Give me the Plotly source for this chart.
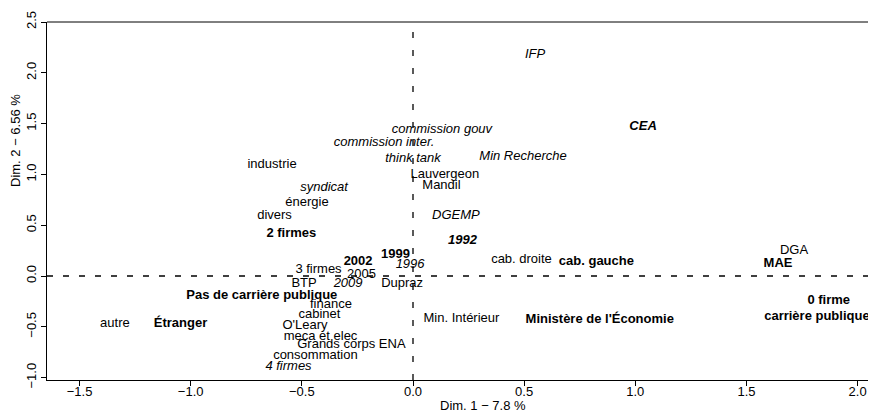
import plotly.graph_objects as go

# ---- data ----
labels = [
    "IFP", "CEA", "Min Recherche", "commission gouv", "commission inter.",
    "think tank", "industrie", "Lauvergeon", "Mandil", "syndicat", "énergie",
    "divers", "DGEMP", "2 firmes", "1992", "1999", "2002", "1996", "3 firmes",
    "2005", "BTP", "2009", "Dupraz", "Pas de carrière publique", "finance",
    "cabinet", "O'Leary", "Min. Intérieur", "meca et elec", "Grands corps ENA",
    "consommation", "4 firmes", "autre", "Étranger", "cab. droite",
    "cab. gauche", "DGA", "MAE", "0 firme", "carrière publique",
    "Ministère de l'Économie",
]
dim1 = [
    0.549, 1.035, 0.495, 0.130, -0.130,
    0.000, -0.634, 0.143, 0.128, -0.400, -0.477,
    -0.623, 0.193, -0.547, 0.223, -0.079, -0.247, -0.013, -0.425,
    -0.232, -0.490, -0.292, -0.049, -0.680, -0.369,
    -0.421, -0.486, 0.218, -0.416, -0.277,
    -0.439, -0.560, -1.341, -1.046, 0.488,
    0.825, 1.714, 1.642, 1.870, 1.817,
    0.840,
]
dim2 = [
    2.175, 1.470, 1.174, 1.437, 1.316,
    1.158, 1.093, 1.001, 0.886, 0.869, 0.722,
    0.597, 0.597, 0.413, 0.348, 0.207, 0.141, 0.108, 0.059,
    0.017, -0.072, -0.079, -0.079, -0.197, -0.285,
    -0.384, -0.492, -0.417, -0.597, -0.679,
    -0.787, -0.892, -0.472, -0.472, 0.157,
    0.141, 0.249, 0.125, -0.246, -0.400,
    -0.430,
]
x_ticks = [-1.5, -1.0, -0.5, 0.0, 0.5, 1.0, 1.5, 2.0]
x_ticktext = ["\u22121.5", "\u22121.0", "\u22120.5", "0.0", "0.5", "1.0", "1.5", "2.0"]
y_ticks = [-1.0, -0.5, 0.0, 0.5, 1.0, 1.5, 2.0, 2.5]
y_ticktext = ["\u22121.0", "\u22120.5", "0.0", "0.5", "1.0", "1.5", "2.0", "2.5"]
x_title = "Dim. 1 \u2212 7.8 %"
y_title = "Dim. 2 \u2212 6.56 %"

# ---- label styling groups ----
bold_labels = {"2 firmes", "1999", "2002", "Pas de carrière publique", "Étranger",
               "cab. gauche", "MAE", "0 firme", "carrière publique",
               "Ministère de l'Économie"}
italic_labels = {"IFP", "Min Recherche", "commission gouv", "commission inter.",
                 "think tank", "syndicat", "DGEMP", "1996", "2009", "4 firmes"}
bold_italic_labels = {"CEA", "1992"}

FONT = "Liberation Sans, Arial, Helvetica, sans-serif"

fig = go.Figure()
groups = [
    ("plain", "normal", "normal"),
    ("bold", "bold", "normal"),
    ("italic", "normal", "italic"),
    ("bolditalic", "bold", "italic"),
]
for name, weight, style in groups:
    xs, ys, ts = [], [], []
    for lab, a, b in zip(labels, dim1, dim2):
        if lab in bold_italic_labels:
            g = "bolditalic"
        elif lab in bold_labels:
            g = "bold"
        elif lab in italic_labels:
            g = "italic"
        else:
            g = "plain"
        if g == name:
            xs.append(a); ys.append(b); ts.append(lab)
    fig.add_trace(go.Scatter(
        x=xs, y=ys, text=ts, mode="text", textposition="middle center",
        textfont=dict(family=FONT, size=13, color="black", weight=weight, style=style),
        showlegend=False, hoverinfo="text", cliponaxis=False,
    ))

# page has an 8px body margin: figure is shifted by OFF px
OFF = 8
PAGE_W, PAGE_H = 876, 412
W, H = PAGE_W - OFF, PAGE_H - OFF
ML = 47 - OFF
MT = 22 - OFF
MR = 0
MB = H - (380 - OFF)
x0, ppx = 413.0 - OFF, 222.3   # figure pixel of x=0, pixels per unit
y0, ppy = 276.0 - OFF, 101.6   # figure pixel of y=0, pixels per unit
xr = [(ML - x0) / ppx, (W - MR - x0) / ppx]
yr = [(y0 - (H - MB)) / ppy, (y0 - MT) / ppy]

axis_common = dict(showline=True, linecolor="black", linewidth=1, ticks="outside",
                   ticklen=5, tickwidth=1, tickcolor="black", showgrid=False,
                   zeroline=False, tickfont=dict(family=FONT, size=13, color="black"))
fig.update_xaxes(range=xr, tickmode="array", tickvals=x_ticks, ticktext=x_ticktext,
                 ticklabelstandoff=-6, **axis_common)
fig.update_yaxes(range=yr, tickmode="array", tickvals=y_ticks, ticktext=y_ticktext,
                 tickangle=-90, **axis_common)

pw = W - ML - MR
ph = H - MT - MB
fig.update_layout(
    width=W, height=H,
    margin=dict(l=ML, r=MR, t=MT, b=MB, pad=0),
    plot_bgcolor="white", paper_bgcolor="white",
    shapes=[
        dict(type="line", xref="paper", yref="paper", x0=0, x1=1, y0=1, y1=1,
             line=dict(color="black", width=1)),
        dict(type="line", xref="x", yref="paper", x0=0, x1=0, y0=0, y1=1,
             line=dict(color="black", width=1.3, dash="6px,12px"), layer="below"),
        dict(type="line", xref="paper", yref="y", x0=0, x1=1, y0=0, y1=0,
             line=dict(color="black", width=1.3, dash="6px,10px"), layer="below"),
    ],
    annotations=[
        dict(text=x_title, xref="paper", yref="paper",
             x=(483 - 47) / pw, y=(380 - 405) / ph,
             xanchor="center", yanchor="middle", showarrow=False,
             font=dict(family=FONT, size=13, color="black")),
        dict(text=y_title, xref="paper", yref="paper",
             x=(15 - 47) / pw, y=(380 - 141) / ph, textangle=-90,
             xanchor="center", yanchor="middle", showarrow=False,
             font=dict(family=FONT, size=13, color="black")),
    ],
)

fig.write_html("out.html")
